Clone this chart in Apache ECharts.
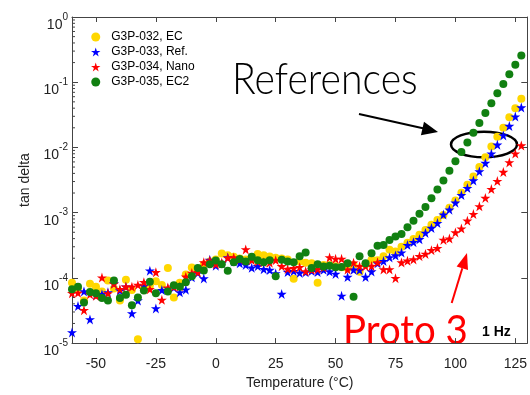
<!DOCTYPE html>
<html><head><meta charset="utf-8">
<script src="https://cdn.jsdelivr.net/npm/echarts@6/dist/echarts.min.js"></script>
<style>html,body{margin:0;padding:0;background:#fff}#c{width:530px;height:395px}</style>
</head><body><div id="c"></div>
<script>
// Temperatures (°C)
const temps = [-60,-57.5,-55,-52.5,-50,-47.5,-45,-42.5,-40,-37.5,-35,-32.5,-30,-27.5,-25,-22.5,-20,-17.5,-15,-12.5,
  -10,-7.5,-5,-2.5,0,2.5,5,7.5,10,12.5,15,17.5,20,22.5,25,27.5,30,32.5,35,37.5,
  40,42.5,45,47.5,50,52.5,55,57.5,60,62.5,65,67.5,70,72.5,75,77.5,80,82.5,85,87.5,
  90,92.5,95,97.5,100,102.5,105,107.5,110,112.5,115,117.5,120,122.5,125,127.5];

// tan delta values
const ecValues = [8.4e-5,6.85e-5,4.5e-5,8.1e-5,7.3e-5,6.2e-5,9.1e-5,6.9e-5,4.5e-5,9.4e-5,
  6.5e-5,1.15e-5,6.9e-5,7.6e-5,8.9e-5,7.8e-5,1.42e-4,5.0e-5,8.4e-5,1.13e-4,
  1.44e-4,1.36e-4,1.6e-4,1.79e-4,1.92e-4,2.36e-4,2.23e-4,2.11e-4,1.99e-4,1.92e-4,
  2.06e-4,2.33e-4,2.23e-4,2.13e-4,2.03e-4,1.98e-4,1.91e-4,9.66e-5,1.8e-4,1.71e-4,
  1.67e-4,8.4e-5,1.58e-4,1.58e-4,1.51e-4,1.46e-4,1.41e-4,1.58e-4,1.24e-4,1.62e-4,
  1.89e-4,1.87e-4,2.15e-4,2.7e-4,2.53e-4,3.0e-4,3.45e-4,3.95e-4,4.6e-4,5.4e-4,
  6.5e-4,7.7e-4,9.2e-4,1.19e-3,1.54e-3,2.02e-3,2.68e-3,3.6e-3,5.03e-3,7.09e-3,
  1.035e-2,1.46e-2,2.01e-2,2.9e-2,4.0e-2,5.57e-2];
const refValues = [1.46e-5,3.69e-5,6.2e-5,2.31e-5,5.4e-5,5.6e-5,6.0e-5,8.2e-5,6.4e-5,7.3e-5,
  2.85e-5,4.5e-5,7.5e-5,1.29e-4,3.4e-5,6.5e-5,6.9e-5,7.1e-5,6.0e-5,6.6e-5,
  1.02e-4,1.19e-4,9.8e-5,1.89e-4,1.54e-4,1.67e-4,2.05e-4,1.79e-4,1.67e-4,1.58e-4,
  1.43e-4,1.51e-4,1.36e-4,1.32e-4,1.17e-4,5.67e-5,1.23e-4,1.27e-4,1.19e-4,1.22e-4,
  1.27e-4,1.23e-4,1.33e-4,1.25e-4,1.15e-4,5.3e-5,1.03e-4,1.33e-4,1.32e-4,1.03e-4,
  1.25e-4,1.67e-4,1.81e-4,2.06e-4,2.2e-4,2.44e-4,3.18e-4,3.53e-4,3.91e-4,4.89e-4,
  5.81e-4,6.92e-4,9.34e-4,1.11e-3,1.42e-3,1.86e-3,2.38e-3,3.11e-3,4.28e-3,5.77e-3,
  8.05e-3,1.1e-2,1.53e-2,2.13e-2,2.97e-2,4.09e-2];
const nanoValues = [5.83e-5,5.9e-5,3.2e-5,5.6e-5,5.3e-5,1.01e-4,5.77e-5,8.1e-5,6.7e-5,7.3e-5,
  7.3e-5,7.8e-5,8.6e-5,6.7e-5,1.22e-4,4.6e-5,7.1e-5,7.3e-5,7.4e-5,1.04e-4,
  1.19e-4,1.22e-4,1.73e-4,1.84e-4,1.62e-4,1.71e-4,2.03e-4,2.05e-4,1.92e-4,2.73e-4,
  1.87e-4,1.79e-4,1.73e-4,1.71e-4,1.87e-4,1.51e-4,1.37e-4,1.41e-4,1.46e-4,1.26e-4,
  1.33e-4,1.36e-4,1.45e-4,2.06e-4,1.96e-4,1.96e-4,1.34e-4,1.71e-4,1.51e-4,1.51e-4,
  1.52e-4,1.73e-4,1.35e-4,1.35e-4,9.9e-5,1.72e-4,1.83e-4,1.92e-4,2.15e-4,2.33e-4,
  2.66e-4,2.86e-4,3.82e-4,4.0e-4,4.97e-4,5.7e-4,7.5e-4,9.5e-4,1.25e-3,1.68e-3,
  2.3e-3,3.05e-3,4.2e-3,5.9e-3,8.05e-3,1.07e-2];
const ec2Values = [6.7e-5,7.3e-5,4.2e-5,6.1e-5,5.8e-5,4.9e-5,4.5e-5,9.1e-5,4.9e-5,5.5e-5,
  3.8e-5,5.0e-5,6.4e-5,8.7e-5,5.8e-5,null,6.2e-5,7.7e-5,7.3e-5,8.6e-5,
  1.06e-4,1.42e-4,1.3e-4,1.62e-4,1.84e-4,1.62e-4,1.29e-4,1.74e-4,1.94e-4,1.78e-4,
  2.11e-4,1.87e-4,1.73e-4,1.87e-4,1.06e-4,1.89e-4,1.78e-4,1.73e-4,2.15e-4,2.44e-4,
  1.42e-4,1.62e-4,1.49e-4,1.54e-4,1.46e-4,1.47e-4,1.67e-4,5.15e-5,2.15e-4,1.67e-4,
  2.38e-4,3.1e-4,3.2e-4,3.8e-4,4.3e-4,4.7e-4,6.0e-4,7.5e-4,9.6e-4,1.22e-3,
  1.66e-3,2.26e-3,3.11e-3,4.38e-3,6.12e-3,8.51e-3,1.19e-2,1.68e-2,2.38e-2,3.36e-2,
  4.74e-2,6.78e-2,9.43e-2,0.132,0.186,0.256];

const seriesNames = ['G3P-032, EC','G3P-033, Ref.','G3P-034, Nano','G3P-035, EC2'];
const xTickValues = [-50,-25,0,25,50,75,100,125];
const yTickValues = [1e-5,1e-4,1e-3,1e-2,1e-1,1];

const STAR = 'path://M50,0L61.2,34.5L97.6,34.5L68.2,55.9L79.4,90.5L50,69.1L20.6,90.5L31.8,55.9L2.4,34.5L38.8,34.5Z';
const AX = '#444';
const FONT = '"Liberation Sans", Arial, sans-serif';

function pts(vals){ return temps.map((t,i)=> vals[i]==null ? [t,'-'] : [t, vals[i]]); }

const chart = echarts.init(document.getElementById('c'), null, {renderer:'canvas'});
const axLine = {show:true, onZero:false, lineStyle:{color:AX, width:1}};
const option = {
  animation:false,
  backgroundColor:'#fff',
  textStyle:{fontFamily:FONT},
  grid:{left:72, top:17, width:461, height:335},
  legend:{orient:'vertical', left:86, top:26, itemWidth:21, itemHeight:9, itemGap:3,
    textStyle:{fontSize:12, color:'#000', fontFamily:FONT}, data:seriesNames},
  xAxis:[
    {type:'value', min:-60, max:130, position:'bottom', axisLine:axLine,
     axisTick:{inside:true, length:5, customValues:xTickValues, lineStyle:{color:AX}},
     axisLabel:{customValues:xTickValues, fontSize:14, color:'#222', margin:14, fontFamily:FONT},
     splitLine:{show:false},
     name:'Temperature (°C)', nameLocation:'middle', nameGap:32,
     nameTextStyle:{fontSize:14, color:'#222', fontFamily:FONT}},
    {type:'value', min:-60, max:130, position:'top', axisLine:axLine,
     axisTick:{inside:true, length:5, customValues:xTickValues, lineStyle:{color:AX}},
     axisLabel:{show:false}, splitLine:{show:false}}
  ],
  yAxis:[
    {type:'log', logBase:10, min:1e-5, max:1, position:'left', axisLine:axLine,
     axisTick:{inside:true, length:6, customValues:yTickValues, lineStyle:{color:AX}},
     axisLabel:{customValues:yTickValues, margin:4, padding:[10,0,0,0],
       formatter:(v)=>{const e=Math.round(Math.log10(v)); return '{b|10}{s|'+e+'}';},
       rich:{b:{fontSize:14, color:'#222', fontFamily:FONT, verticalAlign:'bottom', lineHeight:20},
             s:{fontSize:10, color:'#222', fontFamily:FONT, verticalAlign:'top', lineHeight:20}}},
     splitLine:{show:false},
     name:'tan delta', nameLocation:'middle', nameGap:35,
     nameTextStyle:{fontSize:14, color:'#222', fontFamily:FONT}},
    {type:'log', logBase:10, min:1e-5, max:1, position:'right', axisLine:axLine,
     axisTick:{inside:true, length:6, customValues:yTickValues, lineStyle:{color:AX}},
     axisLabel:{show:false}, splitLine:{show:false}}
  ],
  series:[
    {name:seriesNames[0], type:'scatter', symbol:'circle', symbolSize:8, data:pts(ecValues), itemStyle:{color:'#FFD700', opacity:1}},
    {name:seriesNames[1], type:'scatter', symbol:STAR, symbolSize:10, data:pts(refValues), itemStyle:{color:'#0000FF', opacity:1}},
    {name:seriesNames[2], type:'scatter', symbol:STAR, symbolSize:10, data:pts(nanoValues), itemStyle:{color:'#FF0000', opacity:1}},
    {name:seriesNames[3], type:'scatter', symbol:'circle', symbolSize:8, data:pts(ec2Values), itemStyle:{color:'#118011', opacity:1}}
  ]
};
chart.setOption(option);

// minor log ticks + annotations
const gx0 = chart.convertToPixel({xAxisIndex:0}, -60);
const gfx = [];
for (let d=-5; d<0; d++) {
  for (let k=2; k<10; k++) {
    const y = chart.convertToPixel({yAxisIndex:0}, k*Math.pow(10,d));
    gfx.push({type:'line', silent:true, shape:{x1:gx0, y1:y, x2:gx0+3, y2:y}, style:{stroke:AX, lineWidth:1}});
  }
}
gfx.push(
  {type:'text', silent:true, x:232, y:80, scaleX:0.89, style:{text:'References', font:'300 44px Lato', fill:'#000', verticalAlign:'middle', align:'left'}},
  {type:'text', silent:true, x:343, y:331, scaleX:0.96, style:{text:'Proto 3', font:'400 40px Lato', fill:'#FF0000', verticalAlign:'middle', align:'left'}},
  {type:'text', silent:true, x:482, y:332, style:{text:'1 Hz', font:'bold 14px "Liberation Sans", Arial', fill:'#000', verticalAlign:'middle', align:'left'}},
  {type:'line', silent:true, shape:{x1:359, y1:114, x2:424, y2:128.5}, style:{stroke:'#000', lineWidth:2}},
  {type:'polygon', silent:true, shape:{points:[[438,132],[420.9,135.3],[424,121.7]]}, style:{fill:'#000'}},
  {type:'line', silent:true, shape:{x1:451.7, y1:303, x2:462.3, y2:268.3}, style:{stroke:'#FF0000', lineWidth:2}},
  {type:'polygon', silent:true, shape:{points:[[467,253],[468,270.1],[456.6,266.5]]}, style:{fill:'#FF0000'}},
  {type:'ellipse', silent:true, shape:{cx:484, cy:144.5, rx:33, ry:12.8}, style:{stroke:'#000', lineWidth:2.5, fill:null}}
);
chart.setOption({graphic:gfx});
</script></body></html>
